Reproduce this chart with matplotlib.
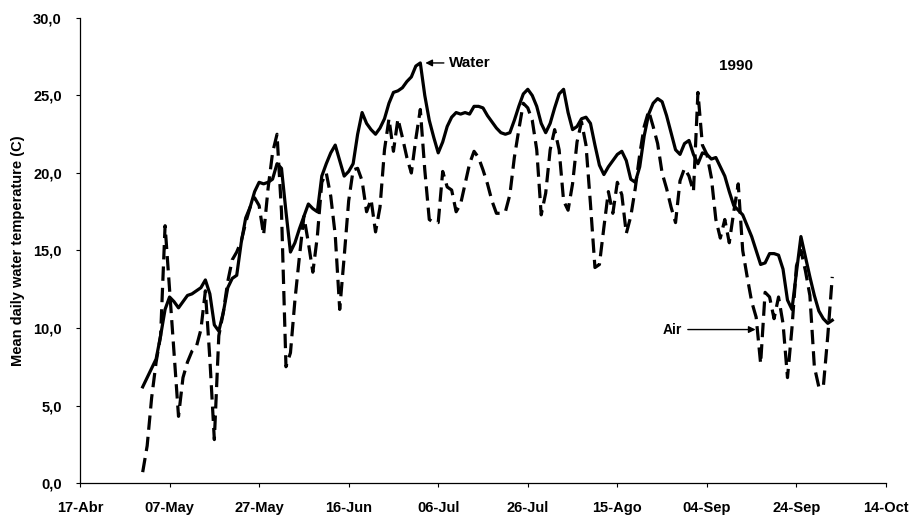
import numpy as np
import matplotlib
matplotlib.use("Agg")
import matplotlib.pyplot as plt

# days counted from 17-Abr (day 0); series run daily from 01-May (day 14)
first_day = 14
water = [
    6.2, 6.8, 7.4, 8.0, 9.5, 11.2, 12.0, 11.7, 11.3, 11.7,
    12.1, 12.2, 12.4, 12.6, 13.1, 12.2, 10.2, 9.8, 11.0, 12.6,
    13.2, 13.4, 15.5, 17.1, 17.8, 18.8, 19.4, 19.3, 19.4, 19.6,
    20.6, 20.3, 17.5, 14.9, 15.5, 16.4, 17.2, 18.0, 17.7, 17.5,
    19.8, 20.6, 21.3, 21.8, 20.8, 19.8, 20.1, 20.6, 22.5, 23.9,
    23.2, 22.8, 22.5, 22.9, 23.5, 24.5, 25.2, 25.3, 25.5, 25.9,
    26.2, 26.9, 27.1, 25.0, 23.4, 22.3, 21.3, 22.0, 23.0, 23.6,
    23.9, 23.8, 23.9, 23.8, 24.3, 24.3, 24.2, 23.7, 23.3, 22.9,
    22.6, 22.5, 22.6, 23.4, 24.3, 25.1, 25.4, 25.0, 24.3, 23.2,
    22.6, 23.2, 24.2, 25.1, 25.4, 23.9, 22.8, 23.0, 23.5, 23.6,
    23.2, 21.8, 20.5, 19.9, 20.4, 20.8, 21.2, 21.4, 20.8, 19.6,
    19.4, 20.4, 22.4, 23.8, 24.5, 24.8, 24.6, 23.7, 22.6, 21.5,
    21.2, 21.9, 22.1, 21.2, 20.6, 21.3, 21.2, 20.9, 21.0, 20.4,
    19.8, 18.8, 17.9, 17.6, 17.3, 16.6, 15.9, 15.0, 14.1, 14.2,
    14.8, 14.8, 14.7, 13.8, 11.8, 11.2, 13.6, 15.9, 14.6, 13.3,
    12.1, 11.1, 10.6, 10.3, 10.5,
]
air = [
    0.7, 2.4, 5.5, 7.8, 9.5, 16.6, 12.5, 8.5, 4.3, 6.8,
    7.8, 8.5, 8.8, 9.9, 12.4, 8.0, 2.8, 9.5, 11.0, 13.0,
    14.4, 14.9, 15.6, 16.8, 17.8, 18.4, 17.9, 16.0, 19.0, 21.3,
    22.5, 17.5, 7.5, 8.4, 11.8, 14.6, 17.2, 15.5, 13.6, 15.9,
    19.4, 20.0, 18.5, 16.0, 11.2, 14.6, 18.2, 20.2, 20.3, 19.5,
    17.5, 18.3, 16.2, 17.8, 21.5, 23.5, 21.4, 23.5, 22.3, 21.0,
    20.0, 22.2, 24.1, 20.2, 17.0, 16.8, 16.8, 20.1, 19.1, 18.9,
    17.5, 18.0, 19.3, 20.6, 21.4, 21.0, 20.2, 19.3, 18.2, 17.4,
    17.4, 17.5, 18.6, 21.0, 22.8, 24.5, 24.2, 23.4, 21.5, 17.3,
    18.7, 21.5, 22.8, 21.5, 18.2, 17.6, 19.3, 22.0, 23.3, 21.8,
    18.0, 13.9, 14.1, 16.5, 18.8, 17.4, 19.4, 18.6, 16.1, 17.2,
    19.0, 21.2, 23.0, 24.0, 23.0, 21.9, 20.0, 19.0, 17.8, 16.8,
    19.5, 20.3, 19.8, 18.8, 25.2, 21.8, 21.2, 19.7, 17.0, 15.8,
    17.0, 15.5, 17.5, 19.3, 15.0, 13.3, 11.7, 10.7, 7.7, 12.3,
    12.0, 10.6, 12.0, 10.3, 6.8, 10.0, 14.0, 15.0, 13.7, 12.1,
    7.5, 6.2, 6.2, 9.5, 13.3,
]
tick_days = [0, 20, 40, 60, 80, 100, 120, 140, 160, 180]
tick_labels = ["17-Abr", "07-May", "27-May", "16-Jun", "06-Jul",
               "26-Jul", "15-Ago", "04-Sep", "24-Sep", "14-Oct"]
y_ticks = [0, 5, 10, 15, 20, 25, 30]

plt.rcParams['font.family'] = ['Liberation Sans', 'DejaVu Sans']

days = np.arange(first_day, first_day + len(water))

fig = plt.figure(figsize=(9.18, 5.15), dpi=100)
ax = fig.add_axes([80 / 918, 32 / 515, 806 / 918, 465 / 515])

ax.plot(days, water, color='black', lw=2.3, solid_joinstyle='round')
ax.plot(days, air, color='black', lw=2.3, dashes=(4.5, 2.2))

ax.set_xlim(0, 180)
ax.set_ylim(0, 30)
ax.set_xticks(tick_days)
ax.set_xticklabels(tick_labels)
ax.set_yticks(y_ticks)
ax.set_yticklabels([f"{v:.1f}".replace('.', ',') for v in y_ticks])
for lab in ax.get_xticklabels() + ax.get_yticklabels():
    lab.set_fontweight('bold')
    lab.set_fontsize(10.5)
ax.tick_params(direction='out', length=3, width=0.8)
ax.tick_params(axis='x', pad=10)
ax.tick_params(axis='y', pad=10)

for s in ['top', 'right']:
    ax.spines[s].set_visible(False)
for s in ['left', 'bottom']:
    ax.spines[s].set_linewidth(0.9)

ax.set_ylabel("Mean daily water temperature (C)", fontsize=10.5, fontweight='bold')
ax.yaxis.set_label_coords(-55 / 806, 0.5)

ax.annotate("Water", xy=(76.5, 27.1), xytext=(82.5, 27.1),
            fontsize=11, fontweight='bold', va='center', ha='left',
            arrowprops=dict(arrowstyle='-|>', color='black', lw=1.0, mutation_scale=10))
ax.annotate("Air", xy=(151.5, 9.9), xytext=(134.5, 9.9),
            fontsize=10, fontweight='bold', va='center', ha='right',
            arrowprops=dict(arrowstyle='-|>', color='black', lw=1.0, mutation_scale=10))
ax.text(146.5, 26.9, "1990", fontsize=11, fontweight='bold', ha='center', va='center')

fig.savefig("out.png", dpi=100)
